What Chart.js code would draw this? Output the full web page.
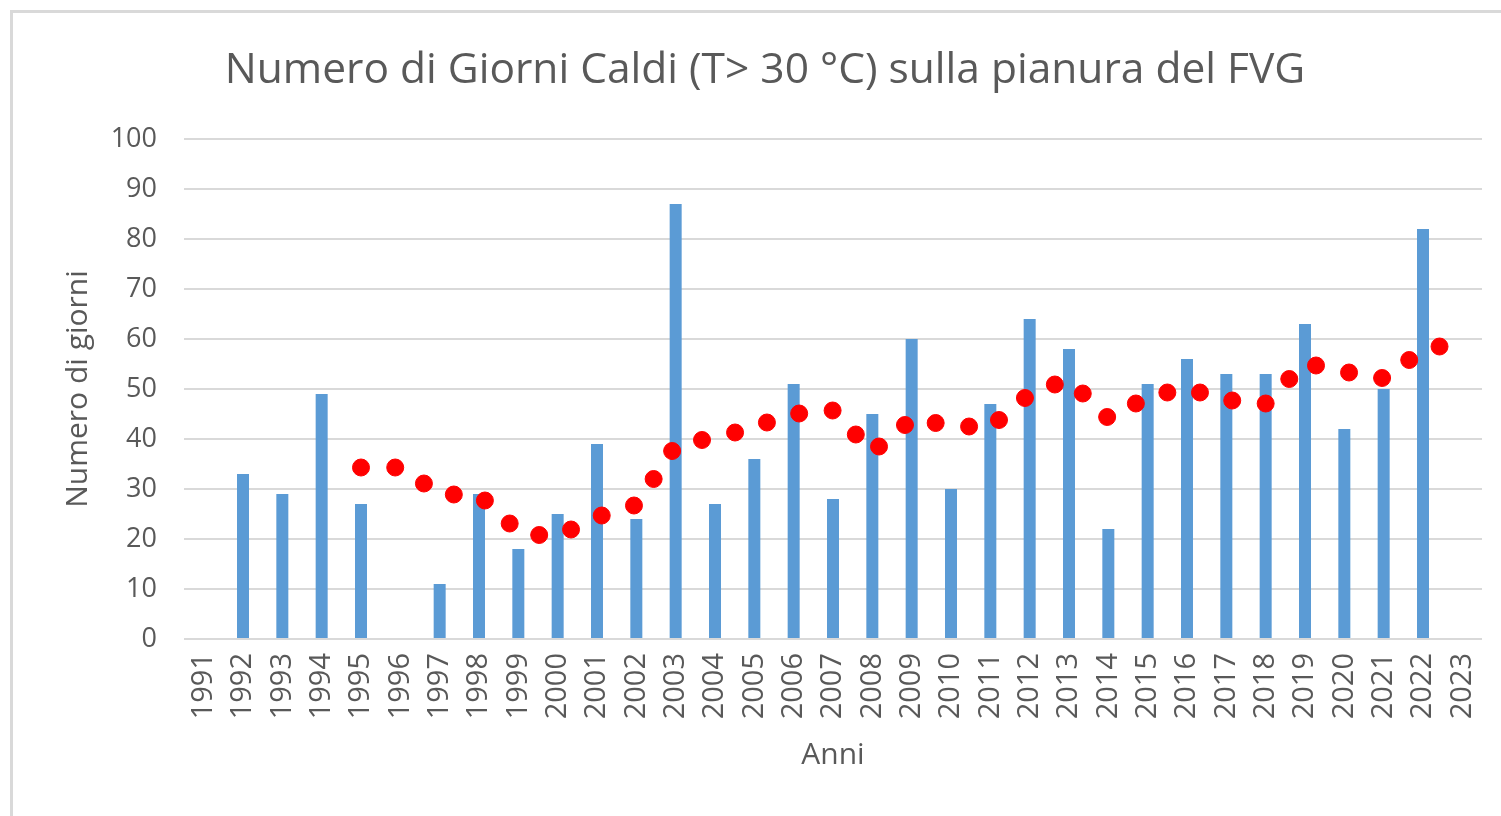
<!DOCTYPE html>
<html lang="it">
<head>
    <meta charset="UTF-8">
    <title>Numero di Giorni Caldi</title>
    <script src="https://cdn.jsdelivr.net/npm/chart.js"></script>
    <style>
        html, body {
            margin: 0;
            padding: 0;
            background: #ffffff;
            overflow: hidden;
        }
        #cornice {
            position: absolute;
            left: 10px;
            top: 10px;
            width: 1700px;
            height: 1000px;
            border: 3px solid #d9d9d9;
        }
        #contenitore {
            position: absolute;
            left: 0;
            top: 0;
            width: 1501px;
            height: 816px;
        }
    </style>
</head>
<body>
    <div id="cornice"></div>
    <div id="contenitore"><canvas id="grafico"></canvas></div>

    <script>
        // Anni (categorie asse x)
        const anni = ['1991', '1992', '1993', '1994', '1995', '1996', '1997', '1998', '1999', '2000',
                      '2001', '2002', '2003', '2004', '2005', '2006', '2007', '2008', '2009', '2010',
                      '2011', '2012', '2013', '2014', '2015', '2016', '2017', '2018', '2019', '2020',
                      '2021', '2022', '2023'];

        // Numero di giorni caldi per anno (barre)
        const giorniCaldi = [null, 33, 29, 49, 27, null, 11, 29, 18, 25,
                             39, 24, 87, 27, 36, 51, 28, 45, 60, 30,
                             47, 64, 58, 22, 51, 56, 53, 53, 63, 42,
                             50, 82, null];

        // Media mobile (punti rossi): posizione in anni e valore
        const mediaAnni = [1995.0, 1995.87, 1996.6, 1997.36, 1998.15, 1998.78, 1999.53, 2000.34, 2001.12, 2001.94,
                           2002.44, 2002.91, 2003.67, 2004.51, 2005.32, 2006.14, 2006.99, 2007.58, 2008.17, 2008.83,
                           2009.61, 2010.46, 2011.22, 2011.88, 2012.64, 2013.35, 2013.97, 2014.7, 2015.5, 2016.33,
                           2017.15, 2018.0, 2018.6, 2019.28, 2020.12, 2020.96, 2021.65, 2022.42];
        const mediaValori = [34.3, 34.3, 31.1, 28.9, 27.7, 23.1, 20.8, 21.9, 24.7, 26.7,
                             32.0, 37.6, 39.8, 41.3, 43.3, 45.1, 45.7, 40.9, 38.5, 42.8,
                             43.2, 42.5, 43.8, 48.2, 50.9, 49.1, 44.4, 47.1, 49.3, 49.3,
                             47.7, 47.1, 52.0, 54.7, 53.3, 52.2, 55.8, 58.5];

        // Tacche asse y
        const tacheY = [0, 10, 20, 30, 40, 50, 60, 70, 80, 90, 100];

        const grigio = '#595959';
        const font = 'Open Sans, sans-serif';

        new Chart(document.getElementById('grafico'), {
            type: 'bar',
            data: {
                labels: anni,
                datasets: [{
                    type: 'scatter',
                    label: 'Media',
                    data: mediaAnni.map((a, i) => ({ x: a, y: mediaValori[i] })),
                    xAxisID: 'x2',
                    backgroundColor: '#ff0000',
                    borderColor: '#ff0000',
                    pointRadius: 8.5,
                    pointHoverRadius: 8.5
                }, {
                    label: 'Giorni caldi',
                    data: giorniCaldi,
                    xAxisID: 'x',
                    backgroundColor: '#5b9bd5',
                    grouped: false,
                    maxBarThickness: 12
                }]
            },
            options: {
                responsive: true,
                maintainAspectRatio: false,
                animation: false,
                layout: {
                    padding: { top: 0, left: 48, right: 19, bottom: 0 }
                },
                plugins: {
                    legend: { display: false },
                    tooltip: { enabled: false },
                    title: {
                        display: true,
                        text: 'Numero di Giorni Caldi (T> 30 °C) sulla pianura del FVG',
                        color: grigio,
                        font: { family: font, size: 42.5, weight: 'normal' },
                        padding: { top: 45, bottom: 43 }
                    }
                },
                scales: {
                    x: {
                        type: 'category',
                        offset: true,
                        grid: { display: false, drawTicks: false },
                        border: { display: false },
                        ticks: {
                            color: grigio,
                            font: { family: font, size: 29 },
                            minRotation: 90,
                            maxRotation: 90,
                            autoSkip: false,
                            padding: 14
                        },
                        title: {
                            display: true,
                            text: 'Anni',
                            color: grigio,
                            font: { family: font, size: 30 },
                            padding: { top: 0, bottom: 43 }
                        },
                        afterFit: (scala) => {
                            scala.height = 177;
                            scala.paddingLeft = 0;
                            scala.paddingRight = 19;
                        }
                    },
                    x2: {
                        type: 'linear',
                        display: false,
                        offset: false,
                        min: 1990.5,
                        max: 2023.5
                    },
                    y: {
                        min: 0,
                        max: 100,
                        afterBuildTicks: (scala) => {
                            scala.ticks = tacheY.map(v => ({ value: v }));
                        },
                        grid: {
                            color: '#d9d9d9',
                            lineWidth: 2,
                            drawTicks: false
                        },
                        border: { display: false },
                        ticks: {
                            color: grigio,
                            font: { family: font, size: 27 },
                            padding: 27
                        },
                        title: {
                            display: true,
                            text: 'Numero di giorni',
                            color: grigio,
                            font: { family: font, size: 30 },
                            padding: { top: 12, bottom: 0 }
                        },
                        afterFit: (scala) => { scala.width = 136; }
                    }
                }
            }
        });
    </script>
</body>
</html>
